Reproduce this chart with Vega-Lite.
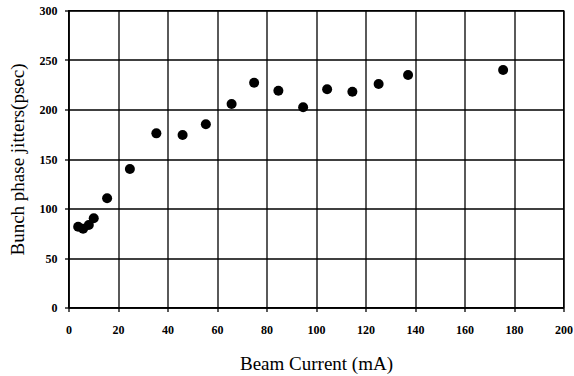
{
  "$schema": "https://vega.github.io/schema/vega-lite/v6.json",
  "autosize": {"type": "none"},
  "padding": {"left": 68.5, "top": 10.5, "right": 10.5, "bottom": 68.5},
  "width": 495,
  "height": 297,
  "background": "white",
  "config": {
    "font": "Liberation Serif",
    "view": {"stroke": "black", "strokeWidth": 1.3},
    "axis": {
      "gridColor": "black",
      "gridOpacity": 1,
      "gridWidth": 1.3,
      "domainColor": "black",
      "domainWidth": 1.3,
      "tickColor": "black",
      "tickWidth": 1.3,
      "tickSize": 4,
      "labelFont": "Times New Roman, Liberation Serif, serif",
      "labelFontWeight": 700,
      "labelFontSize": 12,
      "labelColor": "black",
      "titleFont": "Liberation Serif",
      "titleFontWeight": "normal",
      "titleFontSize": 19,
      "titleColor": "black"
    }
  },
  "data": {
    "values": [
      {"current": 3.9, "jitter": 81.6},
      {"current": 5.9, "jitter": 79.6},
      {"current": 8.2, "jitter": 83.3},
      {"current": 10.2, "jitter": 90.1},
      {"current": 15.6, "jitter": 110.3},
      {"current": 24.8, "jitter": 139.9},
      {"current": 35.5, "jitter": 175.9},
      {"current": 46.1, "jitter": 174.2},
      {"current": 55.5, "jitter": 185.1},
      {"current": 65.9, "jitter": 205.6},
      {"current": 75.0, "jitter": 227.1},
      {"current": 84.8, "jitter": 219.0},
      {"current": 94.8, "jitter": 202.2},
      {"current": 104.5, "jitter": 220.4},
      {"current": 114.7, "jitter": 218.0},
      {"current": 125.3, "jitter": 225.8},
      {"current": 137.2, "jitter": 234.8},
      {"current": 175.6, "jitter": 239.9}
    ]
  },
  "mark": {"type": "point", "filled": true, "shape": "circle", "size": 100, "color": "black", "opacity": 1},
  "encoding": {
    "x": {
      "field": "current", "type": "quantitative",
      "scale": {"domain": [0, 200], "nice": false},
      "axis": {"values": [0,20,40,60,80,100,120,140,160,180,200], "title": "Beam Current (mA)", "labelPadding": 13, "titlePadding": 19, "labelFlush": false}
    },
    "y": {
      "field": "jitter", "type": "quantitative",
      "scale": {"domain": [0, 300], "nice": false},
      "axis": {"values": [0,50,100,150,200,250,300], "title": "Bunch phase jitters(psec)", "labelPadding": 7.5, "titlePadding": 12, "labelFlush": false}
    }
  }
}
